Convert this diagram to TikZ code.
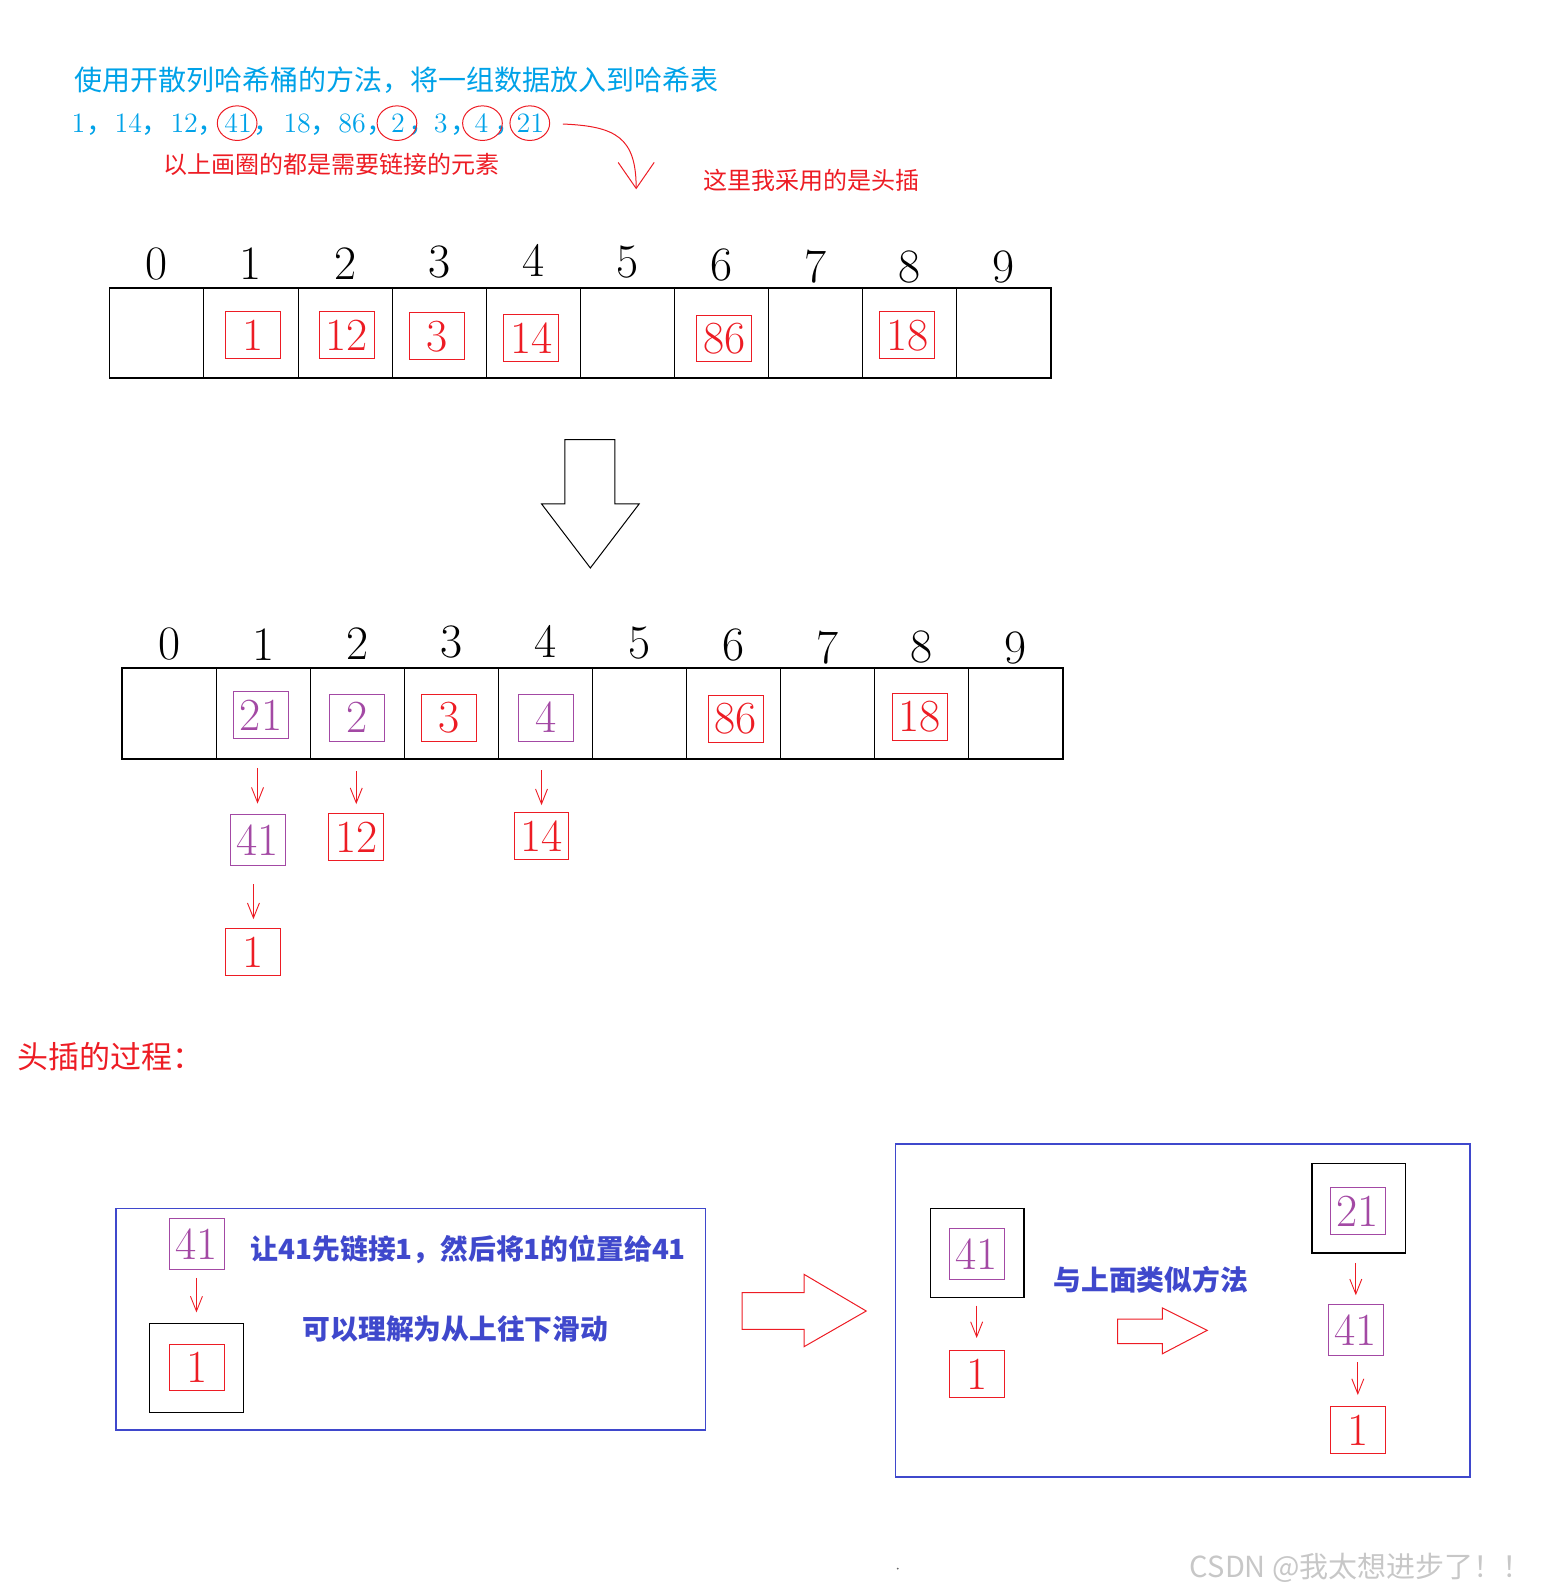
\documentclass[tikz,border=0pt]{standalone}
\usepackage{fontspec}
\usepackage{xcolor}
\usetikzlibrary{arrows.meta, positioning, calc}
\newfontfamily\cjk{Noto Sans CJK SC}
\definecolor{pred}{RGB}{237,28,36}
\definecolor{ppurple}{RGB}{163,73,164}
\definecolor{pindigo}{RGB}{63,72,204}
\definecolor{pcyan}{RGB}{0,162,232}
\newlength\pxu
\setlength\pxu{0.509pt}

\begin{document}
\begin{tikzpicture}[x=\pxu, y=-\pxu,
    cell/.style={draw, line width=0.5pt, minimum width=92.4*\pxu, minimum height=88*\pxu, inner sep=0pt},
    idx/.style={inner sep=0pt, font=\fontsize{24}{24}\selectfont},
    val/.style={draw, line width=0.5pt, minimum width=54*\pxu, minimum height=46*\pxu,
        inner xsep=3*\pxu, inner ysep=0pt, font=\fontsize{23}{23}\selectfont},
    redval/.style={val, draw=pred, text=pred},
    purval/.style={val, draw=ppurple, text=ppurple},
    holder/.style={draw, line width=0.6pt, minimum width=92*\pxu, minimum height=88*\pxu},
    frame/.style={draw=pindigo, line width=0.7pt},
    num/.style={inner sep=0pt, anchor=base, text=pcyan, font=\fontsize{14}{16}\selectfont},
    note/.style={inner sep=0pt, font=\cjk\fontsize{14}{16}\selectfont},
    small/.style={inner sep=0pt, text=pred, font=\cjk\fontsize{12}{14}\selectfont},
    say/.style={inner sep=0pt, text=pindigo, font=\cjk\bfseries\fontsize{13.9}{16}\selectfont},
    link/.style={pred, line width=0.45pt, -{Straight Barb[length=7.5pt, width=6pt]}},
    block/.style={pred, line width=0.5pt}]
\useasboundingbox (0,0) rectangle (1518,1568);

% the data to hash
\node[note, text=pcyan, anchor=west] (title) at (73,79) {使用开散列哈希桶的方法，将一组数据放入到哈希表};
\foreach \x/\t in {77/1,126/14,181/12,234/41,292/18,346/86,391/2,433/3,473/4,521/21}
    \node[num] (n\t) at (\x,130) {\t};
\foreach \x [count=\k] in {85,139,194,249,305,360,401,442,485}
    \node[num, font=\cjk\fontsize{14}{16}\selectfont, anchor=base west] (k\k) at (\x,130) {\makebox[5pt][l]{，}};
\foreach \t/\c in {41/233,2/390,4/474,21/520.5}
    \draw[pred, line width=0.5pt] (\c,121) ellipse [x radius=19.5, y radius=17];
\node[small] (circled) at (326,162) {以上画圈的都是需要链接的元素};
\node[small] (headins) at (797,177) {这里我采用的是头插};
\coordinate (bend) at (625,186);
\draw[pred, line width=0.5pt, -{Straight Barb[length=13pt, width=18pt]}]
    ($(n21)+(32,1)$) .. controls (605,124) and (625,135) .. (bend);

% table before chaining
\foreach \i/\y in {0/259,1/259,2/259,3/257,4/256,5/257,6/260,7/262,8/262,9/262} {
    \node[cell] (a\i) at (154.2+92.4*\i, 327) {};
    \node[idx] (ai\i) at (154.2+92.4*\i, \y) {\i};
}
\draw[line width=0.9pt] (a0.north west) rectangle (a9.south east);
\foreach \x/\y/\t in {248.5/329.5/1, 340.5/329.5/12, 429.5/330.5/3, 522/332/14, 711.5/332.5/86, 891.5/329.5/18}
    \node[redval] (v\t) at (\x,\y) {\t};

\draw[line width=0.5pt] (555,432) -- (604,432) -- (604,495) -- (628,495) -- (580,558) -- (532,495) -- (555,495) -- cycle;

% table after chaining
\foreach \i/\y in {0/633,1/633,2/632,3/631,4/630,5/632,6/634,7/636,8/636,9/637} {
    \node[cell] (b\i) at (166.2+92.4*\i, 701) {};
    \node[idx] (bi\i) at (166.2+92.4*\i, \y) {\i};
}
\draw[line width=0.9pt] (b0.north west) rectangle (b9.south east);
\node[purval] (w21) at (256.5,702.5) {21};
\node[purval] (w2) at (350.5,705) {2};
\node[redval] (w3) at (441.5,705.5) {3};
\node[purval] (w4) at (536.5,705) {4};
\node[redval] (w86) at (723,706.5) {86};
\node[redval] (w18) at (903.5,704.5) {18};

\node[purval, minimum height=50*\pxu] (c41) at (253,825) {41};
\node[redval] (c1) at (249,935.5) {1};
\node[redval] (c12) at (350,822.5) {12};
\node[redval] (c14) at (532,821.5) {14};
\draw[link, shorten <=9*\pxu, shorten >=10*\pxu] (b1.south -| c41) -- (c41);
\draw[link, shorten <=18*\pxu, shorten >=9*\pxu] (c41.south -| c1) -- (c1);
\draw[link, shorten <=12*\pxu, shorten >=9*\pxu] (b2.south -| c12) -- (c12);
\draw[link, shorten <=11*\pxu, shorten >=7*\pxu] (b4.south -| c14) -- (c14);

% head insertion
\node[note, text=pred, font=\cjk\fontsize{15.5}{17}\selectfont] (process) at (109,1038) {头插的过程：};

\node[frame, minimum width=579*\pxu, minimum height=218*\pxu] (lf) at (403.5,1296) {};
\node[purval, minimum height=50*\pxu] (d41) at (193.5,1222) {41};
\node[holder] (h1) at (193,1344) {};
\node[redval] (d1) at (194,1343.5) {1};
\draw[link, shorten <=8*\pxu, shorten >=10*\pxu] (d41.south -| h1) -- (h1);
\node[say, anchor=west] (s1) at (246,1228) {让41先链接1，然后将1的位置给41};
\node[say] (s2) at (447.5,1306) {可以理解为从上往下滑动};

\draw[block] (729,1270) -- (790,1270) -- (790,1252) -- (851,1288) -- (790,1323) -- (790,1306) -- (729,1306) -- cycle;

\node[frame, minimum width=564*\pxu, minimum height=327*\pxu] (rf) at (1162,1287.5) {};
\node[holder] (h41) at (960,1231) {};
\node[purval, minimum height=50*\pxu] (e41) at (959.5,1232) {41};
\node[redval] (e1) at (959.5,1350) {1};
\draw[link, shorten <=7*\pxu, shorten >=12*\pxu] (h41.south -| e1) -- (e1);
\node[say] (s3) at (1130.5,1257) {与上面类似方法};
\draw[block] (1098,1296) -- (1142,1296) -- (1142,1285) -- (1186,1307) -- (1142,1330) -- (1142,1320) -- (1098,1320) -- cycle;
\node[holder] (h21) at (1335,1187) {};
\node[purval] (f21) at (1334,1190) {21};
\node[purval, minimum height=50*\pxu] (f41) at (1332,1307) {41};
\node[redval] (f1) at (1334,1405) {1};
\draw[link, shorten <=9*\pxu, shorten >=9*\pxu] (h21.south -| f41) -- (f41);
\draw[link, shorten <=6*\pxu, shorten >=11*\pxu] (f41.south -| f1) -- (f1);

\fill[black!60] (882,1541) circle (1);
\node[note, text=black!22, font=\cjk\fontsize{14.5}{16}\selectfont] (mark) at (1337,1540) {CSDN @我太想进步了！！};
\end{tikzpicture}
\end{document}
